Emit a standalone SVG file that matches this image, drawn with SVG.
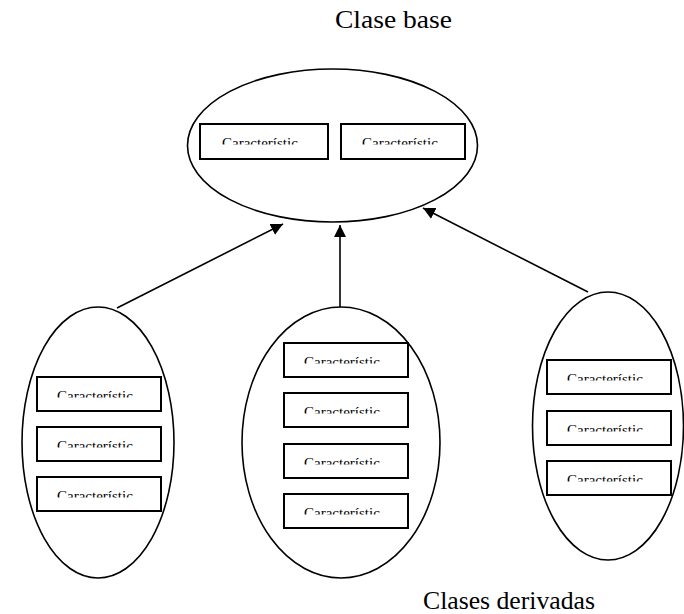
<svg xmlns="http://www.w3.org/2000/svg" width="684" height="614" viewBox="0 0 684 614">
<style>
.ell{fill:#fff;stroke:#000;stroke-width:1.6}
.box{fill:#fff;stroke:#000;stroke-width:2}
.ft{font-family:"Liberation Serif","Times New Roman",serif;font-size:15px;fill:#000}
.lbl{font-family:"Liberation Serif","Times New Roman",serif;font-size:25px;fill:#000}
.con{stroke:#000;stroke-width:1.6;fill:none}
</style>
<defs>
<marker id="ah" markerUnits="userSpaceOnUse" markerWidth="12" markerHeight="12" refX="12" refY="6" orient="auto">
<path d="M0,0 L12,6 L0,12 z" fill="#000"/>
</marker>
<clipPath id="c" clipPathUnits="userSpaceOnUse"><rect x="0" y="0" width="130" height="21.5"/></clipPath>
<g id="f126"><rect class="box" x="1" y="1" width="124" height="34"/><text class="ft" x="21" y="24.5" clip-path="url(#c)">Característic</text></g>
</defs>

<text class="lbl" x="335" y="28" textLength="117" lengthAdjust="spacingAndGlyphs">Clase base</text>
<text class="lbl" x="423" y="609" textLength="172" lengthAdjust="spacingAndGlyphs">Clases derivadas</text>

<g id="connectors">
<line class="con" x1="117" y1="308" x2="283" y2="224" marker-end="url(#ah)"/>
<line class="con" x1="340" y1="308" x2="340" y2="225" marker-end="url(#ah)"/>
<line class="con" x1="588" y1="292" x2="423" y2="208" marker-end="url(#ah)"/>
</g>

<g id="base">
<ellipse class="ell" cx="332.5" cy="145.5" rx="145" ry="76.5"/>
<g transform="translate(199,123)"><rect class="box" x="1" y="1" width="128" height="35"/><text class="ft" x="23" y="24.5" clip-path="url(#c)">Característic</text></g>
<g transform="translate(340,123)"><rect class="box" x="1" y="1" width="124" height="35"/><text class="ft" x="22" y="24.5" clip-path="url(#c)">Característic</text></g>
</g>

<g id="derived-left">
<ellipse class="ell" cx="98" cy="442.5" rx="76" ry="135.5"/>
<use href="#f126" transform="translate(36,376)"/>
<use href="#f126" transform="translate(36,426)"/>
<use href="#f126" transform="translate(36,476)"/>
</g>

<g id="derived-middle">
<ellipse class="ell" cx="341" cy="442.5" rx="99" ry="135.5"/>
<use href="#f126" transform="translate(283,342)"/>
<use href="#f126" transform="translate(283,392)"/>
<use href="#f126" transform="translate(283,443)"/>
<use href="#f126" transform="translate(283,493)"/>
</g>

<g id="derived-right">
<ellipse class="ell" cx="608" cy="426" rx="75.5" ry="134"/>
<use href="#f126" transform="translate(546,359)"/>
<use href="#f126" transform="translate(546,410)"/>
<use href="#f126" transform="translate(546,460)"/>
</g>
</svg>
